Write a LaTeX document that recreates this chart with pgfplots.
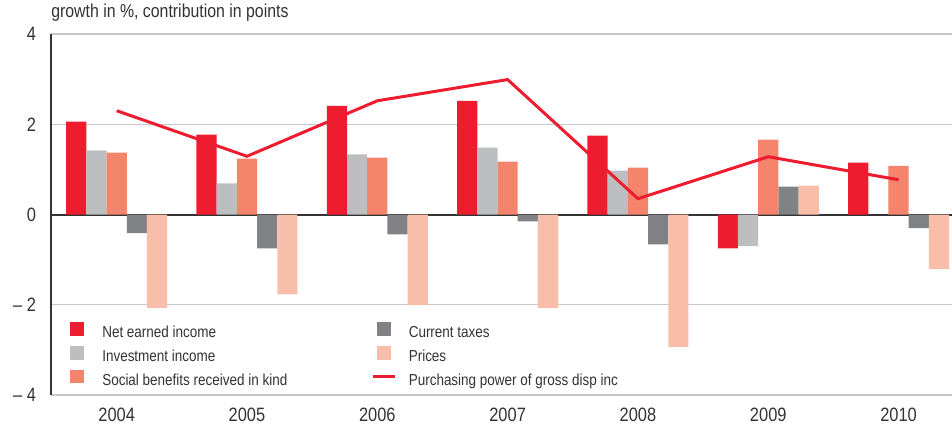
\documentclass[border=0pt]{standalone}
\usepackage{fontspec}
\setmainfont{Liberation Sans}[FakeStretch=0.85]
\usepackage{pgfplots}
\pgfplotsset{compat=1.18}
\definecolor{cRed}{HTML}{ED1C2E}
\definecolor{cLGray}{HTML}{BCBEC0}
\definecolor{cSalmon}{HTML}{F4846C}
\definecolor{cDGray}{HTML}{808285}
\definecolor{cPink}{HTML}{F9BEAA}
\definecolor{cGrid}{HTML}{C8C8C8}
\definecolor{cAxis}{HTML}{333333}
\pgfplotsset{
  barleg/.style={legend image code/.code={\fill[##1] (0pt,-1.5pt) rectangle (10.5pt,8.5pt);}},
  lineleg/.style={legend image code/.code={\path[draw=none,fill=none] (0pt,-1.5pt) rectangle (10.5pt,8.5pt);
    \draw[##1, overlay] (-3pt,3.5pt) -- (13.5pt,3.5pt);}},
}
\begin{document}
\begin{tikzpicture}
\begin{axis}[
  at={(0,0)}, anchor=south west,
  scale only axis, width=675.75pt, height=270.75pt,
  xmin=-0.504, xmax=6.41, ymin=-4, ymax=4,
  axis x line*=bottom, axis y line*=left,
  axis line style={-},
  x axis line style={draw=cGrid, line width=1.1pt},
  y axis line style={draw=cAxis, line width=1.5pt},
  xtick={0,1,2,3,4,5,6},
  xticklabels={2004,2005,2006,2007,2008,2009,2010},
  ytick={-4,-2,0,2,4},
  yticklabels={– 4,– 2,0,2,4},
  major tick length=0pt,
  ymajorgrids, major grid style={draw=cGrid, line width=1.1pt},
  extra y ticks={0}, extra y tick labels={},
  extra y tick style={grid=major, major grid style={draw=cAxis, line width=1.5pt}},
  ticklabel style={font=\fontsize{14.5}{16}\selectfont, text=cAxis},
  yticklabel style={anchor=east, inner sep=0pt, xshift=-11pt},
  xticklabel style={anchor=north, inner sep=0pt, yshift=-9.75pt},
  legend columns=2,
  legend style={at={(0,0)}, anchor=south west, xshift=14.25pt, yshift=4.5pt,
    draw=none, fill=none, inner sep=0pt, row sep=3.85pt,
    font=\fontsize{11.9}{13}\selectfont, text=cAxis,
    nodes={inner sep=0pt, text height=8.5pt, text depth=2.5pt},
    /tikz/every odd column/.append style={column sep=13.5pt},
    /tikz/every even column/.append style={column sep=67pt}},
  legend cell align=left,
]
\addplot[ybar, barleg, bar width=15.15pt, bar shift=-30.3pt, fill=cRed, draw=none]
  coordinates {(0,2.06) (1,1.77) (2,2.41) (3,2.52) (4,1.75) (5,-0.75) (6,1.15)};
\addlegendentry{Net earned income}
\addplot[ybar, barleg, bar width=15.15pt, bar shift=15.15pt, fill=cDGray, draw=none]
  coordinates {(0,-0.41) (1,-0.75) (2,-0.44) (3,-0.15) (4,-0.66) (5,0.62) (6,-0.30)};
\addlegendentry{Current taxes}
\addplot[ybar, barleg, bar width=15.15pt, bar shift=-15.15pt, fill=cLGray, draw=none]
  coordinates {(0,1.42) (1,0.69) (2,1.33) (3,1.48) (4,0.97) (5,-0.70)};
\addlegendentry{Investment income}
\addplot[ybar, barleg, bar width=15.15pt, bar shift=30.3pt, fill=cPink, draw=none]
  coordinates {(0,-2.07) (1,-1.77) (2,-2.01) (3,-2.07) (4,-2.94) (5,0.64) (6,-1.21)};
\addlegendentry{Prices}
\addplot[ybar, barleg, bar width=15.15pt, bar shift=0pt, fill=cSalmon, draw=none]
  coordinates {(0,1.37) (1,1.24) (2,1.26) (3,1.17) (4,1.04) (5,1.66) (6,1.08)};
\addlegendentry{Social benefits received in kind}
\addplot[sharp plot, lineleg, draw=cRed, line width=2.25pt, mark=none]
  coordinates {(0,2.30) (1,1.29) (2,2.52) (3,2.99) (4,0.35) (5,1.28) (6,0.77)};
\addlegendentry{Purchasing power of gross disp inc}
\end{axis}
\node[anchor=base west, inner sep=0pt, font=\fontsize{14}{16}\selectfont, text=cAxis]
  at (0pt,282.75pt) {growth in \%, contribution in points};
\pgfresetboundingbox
\path (-38.25pt,-24pt) rectangle (675.75pt,296.25pt);
\end{tikzpicture}
\end{document}
